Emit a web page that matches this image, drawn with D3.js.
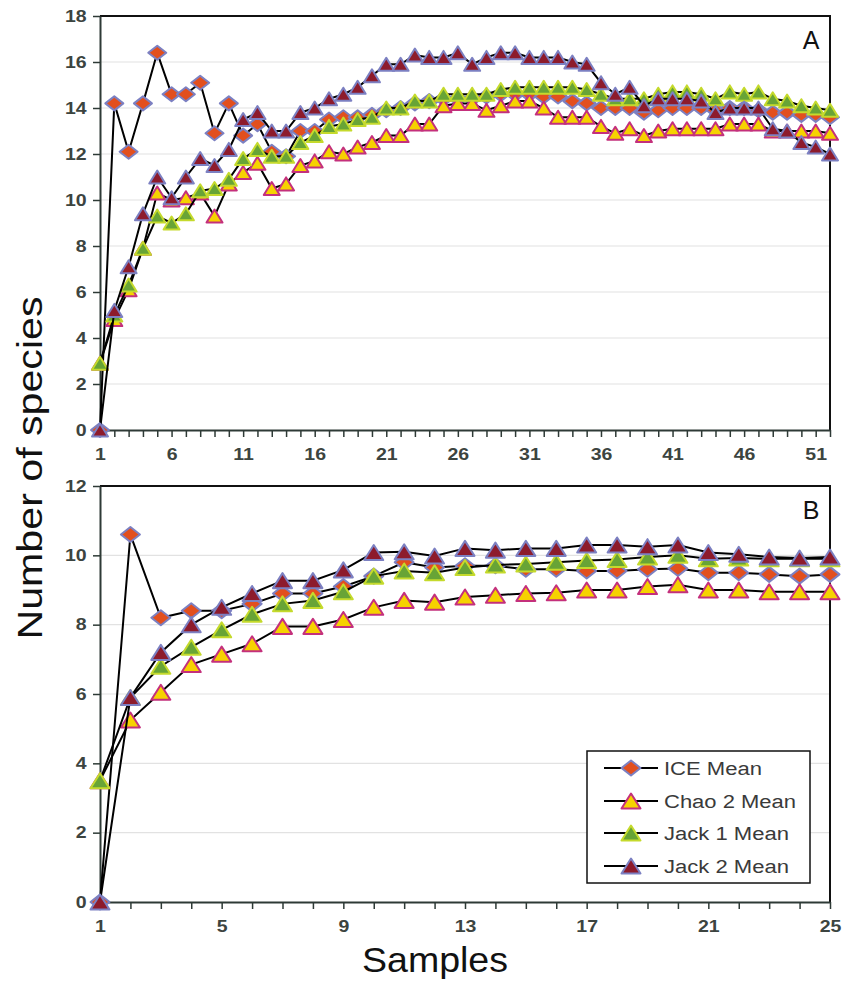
<!DOCTYPE html>
<html>
<head>
<meta charset="utf-8">
<script src="https://cdn.jsdelivr.net/npm/d3@7"></script>
<style>
  body { margin: 0; background: #fff; }
  text { font-family: "Liberation Sans", Arial, sans-serif; }
</style>
</head>
<body>
<div id="chart"></div>
<script>
// ---- data ----
var seriesNames = ["ICE Mean", "Chao 2 Mean", "Jack 1 Mean", "Jack 2 Mean"];

var samplesA = d3.range(1, 53);
var iceA   = [0, 14.2, 12.1, 14.2, 16.4, 14.6, 14.6, 15.1, 12.9, 14.2, 12.8, 13.3, 12.1, 11.9, 13.0, 13.0, 13.5, 13.6, 13.6, 13.7,
              13.9, 14.0, 14.2, 14.3, 14.4, 14.4, 14.4, 14.5, 14.6, 14.6, 14.6, 14.5, 14.5, 14.3, 14.2, 14.0, 14.0, 14.0, 13.8, 13.9,
              14.0, 14.0, 14.0, 13.9, 14.0, 14.0, 13.9, 13.8, 13.8, 13.7, 13.7, 13.6];
var chaoA  = [2.9, 4.8, 6.1, 7.9, 10.3, 10.0, 10.1, 10.3, 9.3, 10.7, 11.2, 11.6, 10.5, 10.7, 11.5, 11.7, 12.1, 12.0, 12.3, 12.5,
              12.8, 12.8, 13.3, 13.3, 14.1, 14.2, 14.2, 13.9, 14.1, 14.3, 14.3, 14.0, 13.6, 13.6, 13.6, 13.2, 12.9, 13.1, 12.8, 13.0,
              13.1, 13.1, 13.1, 13.1, 13.3, 13.3, 13.3, 13.0, 13.0, 13.0, 13.0, 12.9];
var jack1A = [2.9, 5.0, 6.3, 7.9, 9.3, 9.0, 9.4, 10.4, 10.5, 10.9, 11.8, 12.2, 11.9, 11.9, 12.5, 12.8, 13.2, 13.3, 13.5, 13.6,
              14.0, 14.0, 14.3, 14.3, 14.6, 14.6, 14.6, 14.6, 14.8, 14.9, 14.9, 14.9, 14.9, 14.9, 14.8, 14.6, 14.4, 14.4, 14.4, 14.6,
              14.7, 14.7, 14.6, 14.4, 14.7, 14.6, 14.7, 14.4, 14.3, 14.1, 14.0, 13.9];
var jack2A = [0, 5.2, 7.1, 9.4, 11.0, 10.1, 11.0, 11.8, 11.5, 12.2, 13.5, 13.8, 13.0, 13.0, 13.8, 14.0, 14.4, 14.6, 14.9, 15.4,
              15.9, 15.9, 16.3, 16.2, 16.2, 16.4, 15.9, 16.2, 16.4, 16.4, 16.2, 16.2, 16.2, 16.0, 15.9, 15.1, 14.6, 14.9, 14.1, 14.4,
              14.4, 14.4, 14.3, 13.8, 14.0, 14.0, 14.0, 13.1, 13.0, 12.5, 12.3, 12.0];

var samplesB = d3.range(1, 26);
var iceB   = [0, 10.6, 8.2, 8.4, 8.4, 8.6, 8.9, 8.9, 9.1, 9.4, 9.8, 9.65, 9.7, 9.7, 9.6, 9.6, 9.55, 9.55, 9.6, 9.62,
              9.5, 9.5, 9.45, 9.4, 9.45];
var chaoB  = [3.5, 5.25, 6.05, 6.85, 7.15, 7.45, 7.95, 7.95, 8.15, 8.5, 8.7, 8.65, 8.8, 8.85, 8.9, 8.92, 9.0, 9.0, 9.1, 9.15,
              9.0, 9.0, 8.95, 8.95, 8.95];
var jack1B = [3.5, 5.9, 6.8, 7.35, 7.85, 8.3, 8.6, 8.7, 8.95, 9.4, 9.55, 9.5, 9.65, 9.72, 9.75, 9.8, 9.85, 9.88, 9.95, 10.0,
              9.9, 9.92, 9.9, 9.9, 9.9];
var jack2B = [0, 5.9, 7.2, 8.0, 8.5, 8.9, 9.27, 9.27, 9.58, 10.08, 10.1, 9.98, 10.2, 10.15, 10.2, 10.2, 10.3, 10.3, 10.25, 10.3,
              10.08, 10.03, 9.95, 9.92, 9.95];

var xTicksA = [1, 6, 11, 16, 21, 26, 31, 36, 41, 46, 51];
var yTicksA = [0, 2, 4, 6, 8, 10, 12, 14, 16, 18];
var xTicksB = [1, 5, 9, 13, 17, 21, 25];
var yTicksB = [0, 2, 4, 6, 8, 10, 12];

// ---- setup ----
var width = 842, height = 992;

var svg = d3.select("#chart").append("svg")
    .attr("width", width)
    .attr("height", height);

var styles = [
  {fill: "#e24f1e", stroke: "#7c80c2", shape: "diamond"},
  {fill: "#f6d200", stroke: "#c4307c", shape: "triangle"},
  {fill: "#68a436", stroke: "#c5da2c", shape: "triangle"},
  {fill: "#8d1b2c", stroke: "#7c80c2", shape: "triangle"}
];

function markerPath(shape, w, h) {
  if (shape == "diamond")
    return "M0," + (-h / 2) + "L" + (w / 2) + ",0L0," + (h / 2) + "L" + (-w / 2) + ",0Z";
  return "M0," + (-h / 2) + "L" + (w / 2) + "," + (h / 2) + "L" + (-w / 2) + "," + (h / 2) + "Z";
}

function drawPanel(p) {
  var x = d3.scaleLinear().domain(p.xDomain).range([p.left, p.right]);
  var y = d3.scaleLinear().domain(p.yDomain).range([p.bottom, p.top]);
  var g = svg.append("g");

  // gridlines
  g.selectAll(".grid")
    .data(p.yTicks.slice(1, -1))
    .enter().append("line")
      .attr("x1", p.left).attr("x2", p.right)
      .attr("y1", function(d) { return y(d); })
      .attr("y2", function(d) { return y(d); })
      .attr("stroke", "#e2e2e2")
      .attr("stroke-width", 1.2);

  // frame top + right
  g.append("path")
    .attr("d", "M" + p.left + "," + p.top + "H" + p.right + "V" + p.bottom)
    .attr("fill", "none")
    .attr("stroke", "#111")
    .attr("stroke-width", 2);

  var xAxis = d3.axisBottom(x)
      .tickValues(p.samples)
      .tickSize(7)
      .tickSizeOuter(0)
      .tickPadding(12)
      .tickFormat(function(d) { return p.xTicks.indexOf(d) >= 0 ? d : ""; });

  var yAxis = d3.axisLeft(y)
      .tickValues(p.yTicks)
      .tickSize(7)
      .tickSizeOuter(0)
      .tickPadding(4)
      .tickFormat(d3.format("d"));

  var gx = g.append("g")
      .attr("transform", "translate(0," + p.bottom + ")")
      .call(xAxis);
  var gy = g.append("g")
      .attr("transform", "translate(" + p.left + ",0)")
      .call(yAxis);

  [gx, gy].forEach(function(ax) {
    ax.select(".domain").attr("stroke", "#2e3a36").attr("stroke-width", 2);
    ax.selectAll(".tick line").attr("stroke", "#2e3a36").attr("stroke-width", 1.5);
    ax.selectAll(".tick text")
      .attr("font-family", "'Liberation Sans', Arial, sans-serif")
      .attr("font-size", 16)
      .attr("font-weight", "bold")
      .attr("fill", "#3c4440");
  });
  gx.selectAll(".tick text").attr("transform", "scale(1.22,1)");
  gy.selectAll(".tick text").attr("transform", "scale(1.22,1)");

  // series: line then markers, in order
  p.series.forEach(function(vals, k) {
    var st = styles[k];
    var pts = p.samples.map(function(s, i) { return [s, vals[i]]; });
    var line = d3.line()
        .x(function(d) { return x(d[0]); })
        .y(function(d) { return y(d[1]); });
    g.append("path")
      .datum(pts)
      .attr("d", line)
      .attr("fill", "none")
      .attr("stroke", "#000")
      .attr("stroke-width", 2);
    var mw = st.shape == "diamond" ? p.dW : p.tW;
    var mh = st.shape == "diamond" ? p.dH : p.tH;
    g.selectAll(".m" + k)
      .data(pts)
      .enter().append("path")
        .attr("transform", function(d) { return "translate(" + x(d[0]) + "," + y(d[1]) + ")"; })
        .attr("d", markerPath(st.shape, mw, mh))
        .attr("fill", st.fill)
        .attr("stroke", st.stroke)
        .attr("stroke-width", 2)
        .attr("stroke-linejoin", "round");
  });

  g.append("text")
    .attr("x", p.right - 19)
    .attr("y", p.letterY)
    .attr("text-anchor", "middle")
    .attr("font-size", 25)
    .attr("fill", "#111")
    .text(p.letter);

  return {x: x, y: y};
}

drawPanel({
  left: 100, right: 830, top: 16, bottom: 430,
  xDomain: [1, 52], yDomain: [0, 18],
  samples: samplesA, xTicks: xTicksA, yTicks: yTicksA,
  series: [iceA, chaoA, jack1A, jack2A],
  dW: 18, dH: 14, tW: 16, tH: 13,
  letter: "A", letterY: 49
});

drawPanel({
  left: 100, right: 830, top: 486, bottom: 902,
  xDomain: [1, 25], yDomain: [0, 12],
  samples: samplesB, xTicks: xTicksB, yTicks: yTicksB,
  series: [iceB, chaoB, jack1B, jack2B],
  dW: 19, dH: 15, tW: 19, tH: 15,
  letter: "B", letterY: 519
});

// legend
var legend = svg.append("g");
legend.append("rect")
  .attr("x", 587).attr("y", 751)
  .attr("width", 223).attr("height", 132)
  .attr("fill", "#fff")
  .attr("stroke", "#111")
  .attr("stroke-width", 1.5);

var rowY = [768, 801, 833, 866];
var textW = [98, 132, 125, 125];
var rows = legend.selectAll(".row")
    .data(seriesNames)
    .enter().append("g")
      .attr("transform", function(d, i) { return "translate(0," + rowY[i] + ")"; });

rows.append("line")
  .attr("x1", 604).attr("x2", 658)
  .attr("stroke", "#000").attr("stroke-width", 2);

rows.append("path")
  .attr("transform", "translate(631,0)")
  .attr("d", function(d, i) { return markerPath(styles[i].shape, 19, 15); })
  .attr("fill", function(d, i) { return styles[i].fill; })
  .attr("stroke", function(d, i) { return styles[i].stroke; })
  .attr("stroke-width", 2)
  .attr("stroke-linejoin", "round");

rows.append("text")
  .attr("x", 664)
  .attr("y", 6.5)
  .attr("font-size", 18)
  .attr("fill", "#3a3a3a")
  .attr("textLength", function(d, i) { return textW[i]; })
  .attr("lengthAdjust", "spacingAndGlyphs")
  .text(function(d) { return d; });

// axis titles
svg.append("text")
  .attr("transform", "translate(42,468) rotate(-90)")
  .attr("text-anchor", "middle")
  .attr("font-size", 35)
  .attr("fill", "#111")
  .attr("textLength", 343)
  .attr("lengthAdjust", "spacingAndGlyphs")
  .text("Number of species");

svg.append("text")
  .attr("x", 435)
  .attr("y", 972)
  .attr("text-anchor", "middle")
  .attr("font-size", 35)
  .attr("fill", "#111")
  .attr("textLength", 146)
  .attr("lengthAdjust", "spacingAndGlyphs")
  .text("Samples");
</script>
</body>
</html>
